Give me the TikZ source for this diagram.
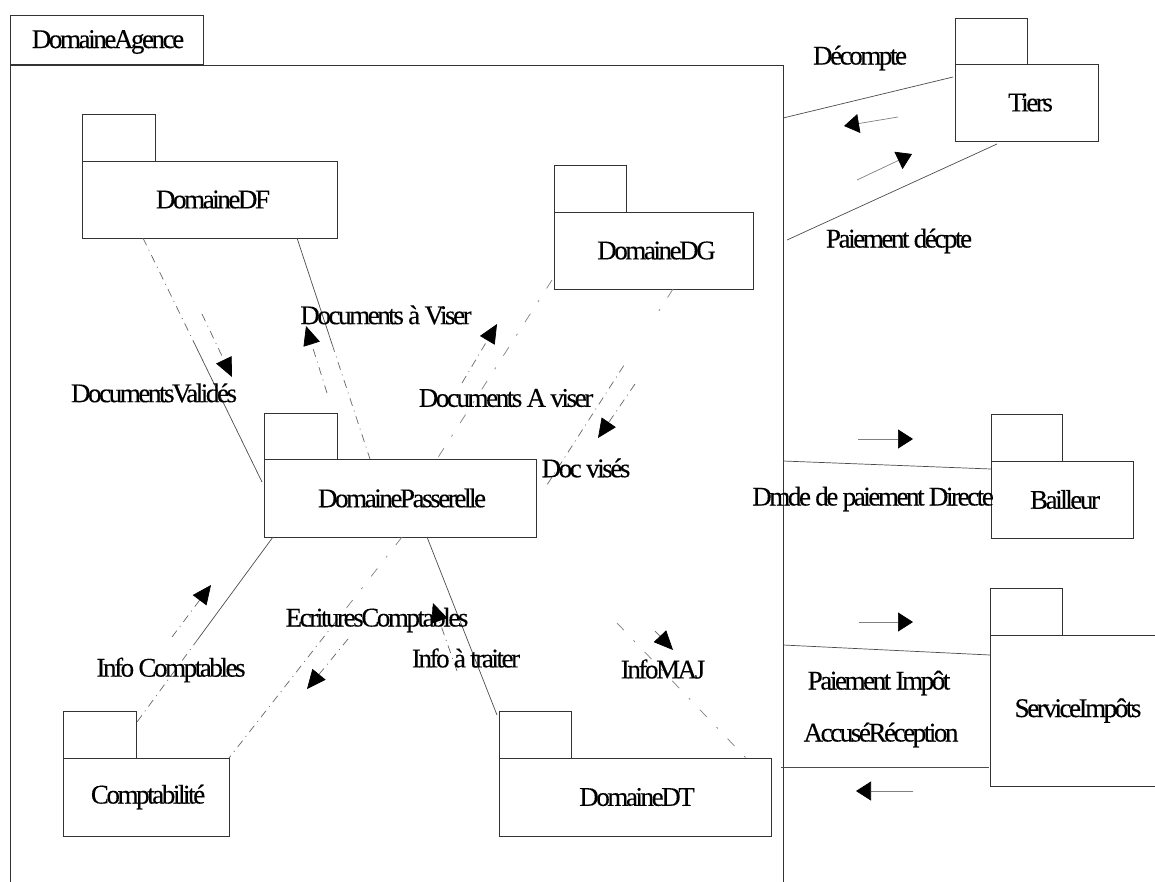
\documentclass[tikz,border=0pt]{standalone}
\usepackage{fontspec}
\setmainfont[LetterSpace=-9,FakeBold=0.25]{Liberation Serif}
\usetikzlibrary{arrows.meta,calc}
\tikzset{
  pkg/.style={draw=black!80,line width=.8pt,anchor=north west,outer sep=0pt,inner sep=0pt,align=center,font=\fontsize{27}{27}\selectfont},
  lbl/.style={inner sep=0pt,font=\fontsize{27}{27}\selectfont},
  solidln/.style={draw=black!70,line width=.7pt},
  dashln/.style={draw=black!60,line width=.7pt,dash pattern=on 8pt off 5pt on 1pt off 5pt},
  sparse/.style={draw=black!50,line width=.7pt,dash pattern=on 10pt off 14pt on 2pt off 14pt},
  flowd/.style={dashln,-{Triangle[length=19pt,width=17pt,black]}},
  flows/.style={draw=black!50,line width=.7pt,-{Triangle[length=15pt,width=19pt,black]}}
}
\begin{document}
\begin{tikzpicture}[x=1pt,y=-1pt]
\clip (0,0) rectangle (1155,881);
\fill[white] (0,0) rectangle (1155,881);
% packages
\node[pkg,minimum width=193pt,minimum height=49pt] (agTab) at (10,15) {};
\node[pkg,minimum width=773pt,minimum height=840pt] (ag) at (10,65) {};
\node[lbl] (agName) at (108,42) {DomaineAgence};
\node[pkg,minimum width=73pt,minimum height=47pt] (dfTab) at (82,114) {};
\node[pkg,minimum width=255pt,minimum height=77pt] (df) at (82,161) {\hspace*{7pt}DomaineDF};
\node[pkg,minimum width=72pt,minimum height=47pt] (dgTab) at (554,165) {};
\node[pkg,minimum width=199pt,minimum height=77pt] (dg) at (554,212) {\hspace*{6pt}DomaineDG};
\node[pkg,minimum width=73pt,minimum height=46pt] (paTab) at (264,413) {};
\node[pkg,minimum width=272pt,minimum height=78pt] (pa) at (264,459) {\hspace*{4pt}DomainePasserelle};
\node[pkg,minimum width=73pt,minimum height=47pt] (coTab) at (63,711) {};
\node[pkg,minimum width=166pt,minimum height=78pt] (co) at (63,758) {\hspace*{4pt}Comptabilité};
\node[pkg,minimum width=72pt,minimum height=47pt] (dtTab) at (499,711) {};
\node[pkg,minimum width=272pt,minimum height=78pt] (dt) at (499,758) {\hspace*{4pt}DomaineDT};
\node[pkg,minimum width=72pt,minimum height=46pt] (tiTab) at (955,18) {};
\node[pkg,minimum width=143pt,minimum height=77pt] (ti) at (955,64) {\hspace*{8pt}Tiers};
\node[pkg,minimum width=71pt,minimum height=47pt] (baTab) at (991,414) {};
\node[pkg,minimum width=142pt,minimum height=77pt] (ba) at (991,461) {\hspace*{6pt}Bailleur};
\node[pkg,minimum width=72pt,minimum height=47pt] (siTab) at (990,588) {};
\node[pkg,minimum width=176pt,minimum height=151pt] (si) at (990,635) {ServiceImpôts};
% connector ends on the nodes
\coordinate (a1) at ($(df.south west)+(61,0)$);
\coordinate (b1) at ($(pa.north west)+(-2,23)$);
\coordinate (a2) at ($(df.south west)+(215,0)$);
\coordinate (b2) at ($(pa.north west)+(106,0)$);
\coordinate (a3) at ($(dg.south west)+(-2,-9)$);
\coordinate (b3) at ($(pa.north west)+(173,0)$);
\coordinate (a4) at ($(dg.south west)+(119,0)$);
\coordinate (b4) at ($(pa.north east)+(0,43)$);
\coordinate (a5) at ($(pa.south west)+(9,0)$);
\coordinate (b5) at ($(coTab.north east)+(1,11)$);
\coordinate (a6) at ($(pa.south west)+(138,0)$);
\coordinate (b6) at (co.north east);
\coordinate (a7) at ($(pa.south west)+(163,0)$);
\coordinate (b7) at ($(dtTab.north west)+(-2,4)$);
\coordinate (a8) at (617,623);
\coordinate (b8) at ($(dt.north west)+(247,0)$);
\coordinate (a9) at ($(ag.north east)+(0,53)$);
\coordinate (b9) at ($(ti.north west)+(-2,13)$);
\coordinate (a10) at ($(ag.north east)+(4,175)$);
\coordinate (b10) at ($(ti.south west)+(42,3)$);
\coordinate (a11) at ($(ag.north east)+(0,396)$);
\coordinate (b11) at ($(ba.north west)+(0,8)$);
\coordinate (a12) at ($(ag.north east)+(0,580)$);
\coordinate (b12) at ($(si.north west)+(0,20)$);
\coordinate (a13) at ($(ag.north east)+(-2,702)$);
\coordinate (b13) at ($(si.north west)+(-1,132)$);
% connectors
\draw[dashln] (a1) -- ($(a1)!.42!(b1)$);
\draw[solidln] ($(a1)!.42!(b1)$) -- (b1);
\draw[solidln] (a2) -- ($(a2)!.48!(b2)$);
\draw[dashln] ($(a2)!.48!(b2)$) -- (b2);
\draw[sparse] (a3) -- (b3);
\draw[sparse] (a4) -- ($(a4)!.14!(b4)$);
\draw[dashln] ($(a4)!.36!(b4)$) -- ($(a4)!.93!(b4)$);
\draw[solidln] (a5) -- ($(a5)!.55!(b5)$);
\draw[dashln] ($(a5)!.55!(b5)$) -- (b5);
\draw[sparse] (a6) -- ($(a6)!.38!(b6)$);
\draw[dashln] ($(a6)!.38!(b6)$) -- (b6);
\draw[solidln] (a7) -- (b7);
\draw[sparse] (a8) -- (b8);
\draw[solidln] (a9) -- (b9);
\draw[solidln] (a10) -- (b10);
\draw[solidln] (a11) -- (b11);
\draw[solidln] (a12) -- (b12);
\draw[solidln] (a13) -- (b13);
% flow arrows
\coordinate (t1) at (202,314); \coordinate (h1) at (232,377);
\coordinate (t2) at (327,393); \coordinate (h2) at (306,326);
\coordinate (t3) at (462,383); \coordinate (h3) at (497,324);
\coordinate (t4) at (635,384); \coordinate (h4) at (598,438);
\coordinate (t5) at (172,637); \coordinate (h5) at (211,585);
\coordinate (t6) at (348,639); \coordinate (h6) at (307,689);
\coordinate (t7) at (457,671); \coordinate (h7) at (433,603);
\coordinate (t8) at (655,631); \coordinate (h8) at (673,650);
\coordinate (t9) at (898,117); \coordinate (h9) at (844,126);
\coordinate (t10) at (857,180); \coordinate (h10) at (912,154);
\coordinate (t11) at (858,439); \coordinate (h11) at (913,439);
\coordinate (t12) at (859,622); \coordinate (h12) at (913,622);
\coordinate (t13) at (913,791); \coordinate (h13) at (856,791);
\foreach \i in {1,...,8} {\draw[flowd] (t\i) -- (h\i);}
\foreach \i in {9,...,13} {\draw[flows] (t\i) -- (h\i);}
% labels
\node[lbl] (l1) at (154,393) {DocumentsValidés};
\node[lbl] (l2) at (386,315) {Documents à Viser};
\node[lbl] (l3) at (506,398) {Documents A viser};
\node[lbl] (l4) at (586,468) {Doc visés};
\node[lbl] (l5) at (171,670) {Info Comptables};
\node[lbl] (l6) at (377,620) {EcrituresComptables};
\node[lbl] (l7) at (466,658) {Info à traiter};
\node[lbl] (l8) at (663,669) {InfoMAJ};
\node[lbl] (l9) at (860,58) {Décompte};
\node[lbl] (l10) at (899,241) {Paiement décpte};
\node[lbl] (l11) at (873,499) {Dmde de paiement Directe};
\node[lbl] (l12) at (879,683) {Paiement Impôt};
\node[lbl] (l13) at (881,735) {AccuséRéception};
\end{tikzpicture}
\end{document}
